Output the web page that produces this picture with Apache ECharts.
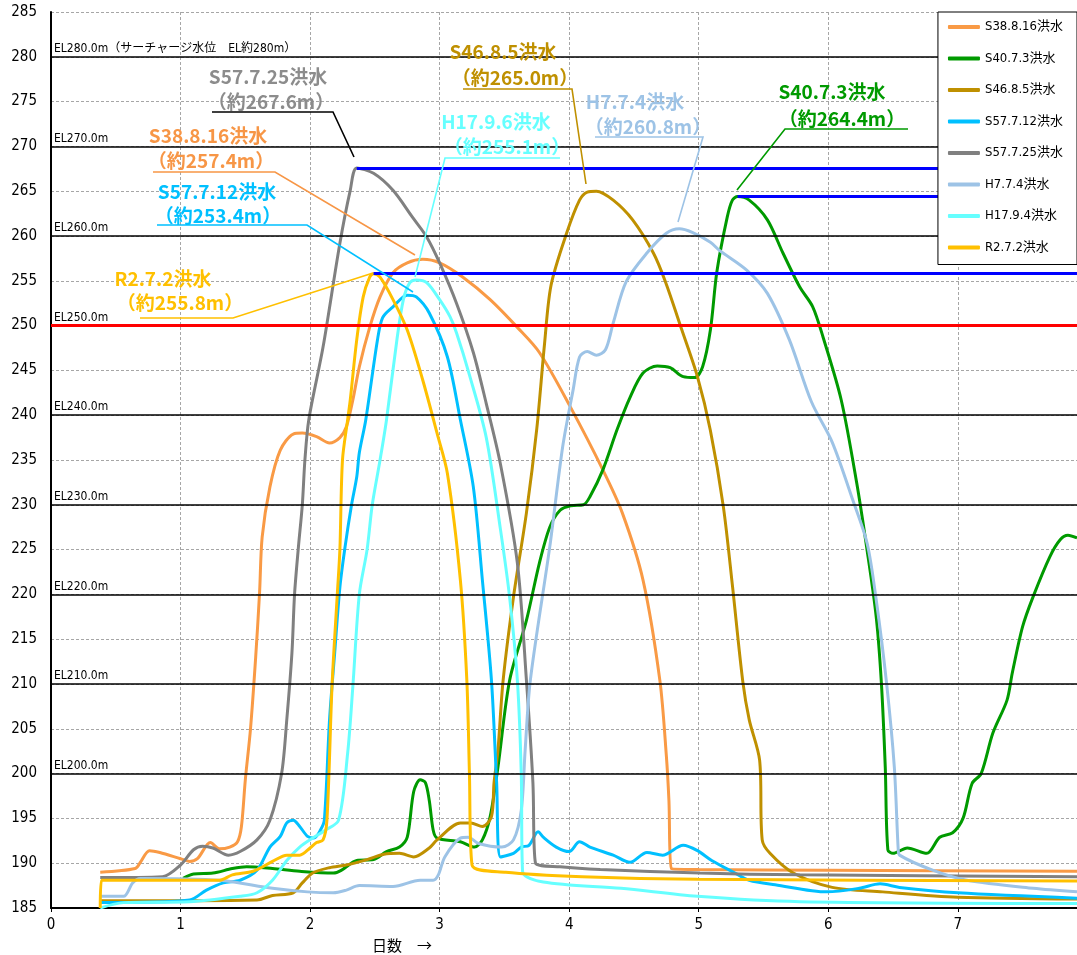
<!DOCTYPE html>
<html>
<head>
<meta charset="utf-8">
<script src="https://cdn.jsdelivr.net/npm/echarts@6/dist/echarts.min.js"></script>
<style>
  html, body { margin: 0; padding: 0; background: #fff; }
  #chart { width: 1077px; height: 955px; }
</style>
</head>
<body>
<div id="chart"></div>
<script>
// 貯水位の推移 (日数, EL m)
const s38_8_16 = [[0.38,189.0],[0.65,189.4],[0.69,190.1],[0.76,191.4],[0.84,191.2],[1.00,190.5],[1.07,190.2],[1.13,190.5],[1.23,192.3],[1.30,191.6],[1.38,191.8],[1.44,192.4],[1.47,194.1],[1.50,199.3],[1.54,205.0],[1.58,213.0],[1.61,220.2],[1.63,226.4],[1.69,232.0],[1.77,236.1],[1.87,237.9],[1.94,238.0],[2.05,237.6],[2.15,236.9],[2.23,237.5],[2.28,238.7],[2.33,241.7],[2.38,245.4],[2.46,249.8],[2.54,253.2],[2.64,255.9],[2.75,257.0],[2.87,257.4],[3.00,257.0],[3.18,255.4],[3.39,252.9],[3.60,249.8],[3.77,247.0],[4.01,240.9],[4.26,233.9],[4.41,229.1],[4.57,221.6],[4.70,210.4],[4.75,202.0],[4.77,197.0],[4.79,189.4],[5.00,189.3],[6.00,189.2],[7.92,189.1]];
const s40_7_3 = [[1.02,188.3],[1.10,188.8],[1.25,188.9],[1.40,189.4],[1.51,189.6],[1.71,189.4],[1.92,189.1],[2.18,188.9],[2.24,189.2],[2.36,190.3],[2.49,190.4],[2.59,191.3],[2.69,191.8],[2.75,192.9],[2.80,198.0],[2.85,199.3],[2.89,199.0],[2.92,197.0],[2.95,193.7],[2.98,192.8],[3.16,192.4],[3.27,191.8],[3.33,192.6],[3.39,195.2],[3.45,200.7],[3.54,210.4],[3.67,217.1],[3.77,223.5],[3.85,227.5],[3.93,229.4],[4.01,229.9],[4.11,230.0],[4.16,230.9],[4.26,233.9],[4.37,238.4],[4.47,242.0],[4.57,244.7],[4.68,245.5],[4.78,245.3],[4.88,244.3],[4.97,244.2],[5.03,245.4],[5.09,249.5],[5.14,256.0],[5.22,262.1],[5.26,264.0],[5.30,264.4],[5.39,264.0],[5.53,261.8],[5.65,258.1],[5.78,254.3],[5.88,252.1],[5.96,248.7],[6.10,241.7],[6.22,232.4],[6.30,224.9],[6.37,217.5],[6.41,210.1],[6.44,200.7],[6.46,191.5],[6.50,191.1],[6.61,191.7],[6.76,191.1],[6.86,192.9],[6.96,193.4],[7.04,195.0],[7.11,198.9],[7.18,200.0],[7.27,204.5],[7.38,208.2],[7.42,211.2],[7.50,216.4],[7.58,219.7],[7.71,224.2],[7.79,226.1],[7.85,226.6],[7.92,226.3]];
const s46_8_5 = [[0.38,185.8],[1.59,185.9],[1.71,186.4],[1.87,186.7],[1.94,187.8],[2.02,188.9],[2.15,189.5],[2.28,189.8],[2.44,190.4],[2.57,191.0],[2.69,191.1],[2.80,190.7],[2.92,191.7],[2.98,192.6],[3.16,194.5],[3.24,194.5],[3.33,194.1],[3.40,195.2],[3.42,199.0],[3.45,202.6],[3.49,210.4],[3.57,219.7],[3.67,229.1],[3.75,238.5],[3.81,248.0],[3.86,254.5],[3.98,260.3],[4.08,264.0],[4.14,264.9],[4.21,265.0],[4.34,264.0],[4.49,261.8],[4.65,258.1],[4.74,255.0],[4.87,249.5],[4.99,244.3],[5.09,238.3],[5.19,229.8],[5.26,221.0],[5.34,210.3],[5.39,206.0],[5.47,201.5],[5.49,192.6],[5.55,191.1],[5.73,188.9],[6.03,187.3],[6.42,186.8],[7.00,186.2],[7.92,186.0]];
const s57_7_12 = [[0.38,185.6],[1.07,185.9],[1.20,187.0],[1.33,187.8],[1.46,188.1],[1.59,189.2],[1.69,191.8],[1.77,193.0],[1.82,194.5],[1.87,194.8],[1.92,194.1],[1.98,193.0],[2.03,192.8],[2.08,193.7],[2.11,194.8],[2.15,206.0],[2.19,213.5],[2.23,220.8],[2.27,225.3],[2.32,230.0],[2.36,233.1],[2.38,235.8],[2.43,239.5],[2.52,248.4],[2.56,250.9],[2.64,252.1],[2.75,253.4],[2.82,253.2],[2.92,251.4],[3.06,246.5],[3.16,239.5],[3.26,232.0],[3.33,221.6],[3.40,210.4],[3.44,199.0],[3.47,190.7],[3.57,191.1],[3.63,191.8],[3.69,192.0],[3.76,193.5],[3.80,192.9],[3.90,191.8],[4.00,191.3],[4.08,192.4],[4.16,191.8],[4.34,190.9],[4.47,190.1],[4.60,191.2],[4.72,190.9],[4.88,192.0],[4.99,191.4],[5.10,190.3],[5.28,188.9],[5.39,188.1],[5.59,187.6],[5.99,186.8],[6.24,187.2],[6.40,187.7],[6.55,187.3],[7.00,186.7],[7.92,186.1]];
const s57_7_25 = [[0.38,188.4],[0.86,188.5],[1.00,189.8],[1.10,191.5],[1.17,191.9],[1.25,191.7],[1.37,190.9],[1.46,191.3],[1.59,192.6],[1.69,194.8],[1.78,200.0],[1.82,206.0],[1.86,213.5],[1.88,220.0],[1.91,225.3],[1.94,230.0],[1.96,235.0],[1.99,239.5],[2.10,247.6],[2.23,259.2],[2.31,265.1],[2.36,267.6],[2.49,267.0],[2.64,265.1],[2.79,262.1],[2.90,259.9],[3.00,257.0],[3.13,252.5],[3.26,247.0],[3.36,241.3],[3.47,234.5],[3.60,223.5],[3.67,210.4],[3.72,199.0],[3.74,190.0],[3.93,189.6],[4.24,189.3],[5.01,188.9],[5.78,188.7],[7.92,188.5]];
const h7_7_4 = [[0.38,186.3],[0.56,186.3],[0.63,187.8],[0.69,188.3],[1.30,188.1],[1.71,187.2],[1.98,186.8],[2.18,186.7],[2.28,187.0],[2.38,187.5],[2.64,187.4],[2.85,188.1],[2.95,188.1],[2.99,188.7],[3.04,190.7],[3.16,192.8],[3.22,192.9],[3.30,192.2],[3.48,191.8],[3.57,192.6],[3.63,195.9],[3.66,202.6],[3.70,210.4],[3.85,225.3],[3.95,236.5],[4.03,242.8],[4.08,246.5],[4.14,247.1],[4.21,246.7],[4.28,247.3],[4.34,250.3],[4.44,254.9],[4.60,258.1],[4.75,260.3],[4.85,260.8],[4.95,260.4],[5.09,259.3],[5.16,258.4],[5.37,256.2],[5.53,253.6],[5.70,248.4],[5.87,241.5],[6.03,237.0],[6.19,230.5],[6.30,225.7],[6.37,219.4],[6.45,210.1],[6.51,200.7],[6.54,191.5],[6.55,190.9],[6.81,189.2],[7.07,188.1],[7.58,187.2],[7.92,186.8]];
const h17_9_4 = [[0.38,185.0],[0.56,185.6],[1.07,185.7],[1.46,186.3],[1.59,186.7],[1.71,188.1],[1.82,190.3],[1.92,191.8],[2.02,192.8],[2.12,193.7],[2.22,194.8],[2.29,202.3],[2.33,209.7],[2.38,220.0],[2.44,225.0],[2.48,230.0],[2.54,235.0],[2.59,239.5],[2.67,248.4],[2.72,252.9],[2.77,254.8],[2.82,255.1],[2.90,254.8],[3.00,252.9],[3.08,251.0],[3.13,249.2],[3.23,244.5],[3.36,237.5],[3.47,227.2],[3.54,219.7],[3.60,210.4],[3.63,200.0],[3.64,189.1],[3.80,187.9],[4.40,187.2],[4.99,186.3],[5.78,185.7],[7.92,185.5]];
const r2_7_2 = [[0.38,185.0],[0.39,188.1],[1.30,188.1],[1.40,188.7],[1.56,189.1],[1.71,190.2],[1.82,190.9],[1.92,190.9],[2.00,191.7],[2.05,192.3],[2.10,192.6],[2.13,194.8],[2.17,210.0],[2.21,220.0],[2.23,225.0],[2.25,235.0],[2.29,239.5],[2.31,241.7],[2.36,248.4],[2.41,253.2],[2.46,255.4],[2.49,255.8],[2.54,255.4],[2.64,252.9],[2.75,249.5],[2.87,243.9],[2.98,238.0],[3.06,233.5],[3.16,221.6],[3.21,210.4],[3.23,200.0],[3.25,189.8],[3.51,189.0],[4.10,188.5],[4.99,188.2],[7.92,188.0]];

const seriesNames = ['S38.8.16洪水', 'S40.7.3洪水', 'S46.8.5洪水', 'S57.7.12洪水', 'S57.7.25洪水', 'H7.7.4洪水', 'H17.9.4洪水', 'R2.7.2洪水'];
const seriesData = [s38_8_16, s40_7_3, s46_8_5, s57_7_12, s57_7_25, h7_7_4, h17_9_4, r2_7_2];
const seriesColors = ['#f99a45', '#009a00', '#bf9000', '#00c0ff', '#808080', '#9dc3e6', '#66ffff', '#ffc000'];

// EL 基準線
const elLevels = [200, 210, 220, 230, 240, 260, 270, 280];
const floodLevel = 250;
const surchargeNote = '（サーチャージ水位　EL約280m）';
// 青線を引く洪水 (S57.7.25, S40.7.3, R2.7.2)
const blueLineSeries = [4, 1, 7];

const xMax = 7.92;
const fontNarrow = "'DejaVu Sans Condensed', 'Liberation Sans Narrow', 'Noto Sans CJK JP', sans-serif";
const fontCallout = "'Noto Sans CJK JP', sans-serif";

function peakOf(data) {
    let p = data[0];
    data.forEach(function (d) { if (d[1] > p[1]) p = d; });
    return p;
}

// 吹き出し (pixel layout)
const callouts = [
    { idx: 4, name: 'S57.7.25洪水', text: '#8c8c8c', line: '#000000', t1: [268, 77], t2: [271, 102], path: [[212, 112], [333, 112], [354, 157]] },
    { idx: 0, name: 'S38.8.16洪水', text: '#f79646', line: '#f79646', t1: [208, 136], t2: [211, 161], path: [[153, 172], [275, 172], [415, 255]] },
    { idx: 3, name: 'S57.7.12洪水', text: '#00c0ff', line: '#00c0ff', t1: [217, 192], t2: [218, 216], path: [[157, 225], [307, 225], [413, 292]] },
    { idx: 7, name: 'R2.7.2洪水', text: '#ffc000', line: '#ffc000', t1: [163, 279], t2: [180, 303], path: [[140, 318], [233, 318], [373, 273]] },
    { idx: 2, name: 'S46.8.5洪水', text: '#bf9000', line: '#bf9000', t1: [503, 52], t2: [515, 78], path: [[463, 89], [572, 89], [586, 184]] },
    { idx: 6, name: 'H17.9.6洪水', text: '#66ffff', line: '#66ffff', t1: [496, 122], t2: [507, 147], path: [[560, 158], [445, 158], [415, 277]] },
    { idx: 5, name: 'H7.7.4洪水', text: '#9dc3e6', line: '#9dc3e6', t1: [635, 102], t2: [648, 127], path: [[595, 137], [703, 137], [678, 222]] },
    { idx: 1, name: 'S40.7.3洪水', text: '#009a00', line: '#009a00', t1: [832, 92], t2: [842, 119], path: [[908, 129], [785, 129], [737, 190]] }
];

let chart = echarts.init(document.getElementById('chart'));

let series = seriesNames.map(function (name, i) {
    return {
        name: name,
        type: 'line',
        data: seriesData[i],
        symbol: 'none',
        smooth: 0.3,
        color: seriesColors[i],
        lineStyle: { width: 3, color: seriesColors[i] },
        z: 3
    };
});

let elLines = elLevels.map(function (v) {
    return {
        yAxis: v,
        lineStyle: { color: '#000', width: 1.5, type: 'solid' },
        label: { formatter: 'EL' + v.toFixed(1) + 'm' + (v === 280 ? surchargeNote : '') }
    };
});
elLines.push({
    yAxis: floodLevel,
    lineStyle: { color: '#ff0000', width: 3, type: 'solid' },
    label: { formatter: 'EL' + floodLevel.toFixed(1) + 'm' }
});

series.push({
    type: 'line',
    data: [],
    z: 1,
    silent: true,
    markLine: {
        symbol: ['none', 'none'],
        silent: true,
        animation: false,
        label: { position: 'insideStartTop', color: '#000', fontSize: 12, fontFamily: fontNarrow, distance: [3, 2] },
        data: elLines
    }
});

series.push({
    type: 'line',
    data: [],
    z: 8,
    silent: true,
    markLine: {
        symbol: ['none', 'none'],
        silent: true,
        animation: false,
        label: { show: false },
        lineStyle: { color: '#0000ff', width: 3, type: 'solid' },
        data: blueLineSeries.map(function (i) {
            let p = peakOf(seriesData[i]);
            return [{ coord: [p[0], p[1]] }, { coord: [xMax, p[1]] }];
        })
    }
});

let graphic = [];
callouts.forEach(function (c) {
    let p = peakOf(seriesData[c.idx]);
    graphic.push({
        type: 'polyline', silent: true, z: 20,
        shape: { points: c.path },
        style: { stroke: c.line, lineWidth: 1.6, fill: null }
    });
    graphic.push({
        type: 'text', silent: true, z: 20, x: c.t1[0], y: c.t1[1],
        style: { text: c.name, fill: c.text, font: 'bold 19px ' + fontCallout, textAlign: 'center', textVerticalAlign: 'middle' }
    });
    graphic.push({
        type: 'text', silent: true, z: 20, x: c.t2[0], y: c.t2[1],
        style: { text: '（約' + p[1].toFixed(1) + 'm）', fill: c.text, font: 'bold 19px ' + fontCallout, textAlign: 'center', textVerticalAlign: 'middle' }
    });
});
graphic.push({
    type: 'text', silent: true, x: 402, y: 945,
    style: { text: '日数　→', fill: '#000', font: '15px ' + fontCallout, textAlign: 'center', textVerticalAlign: 'middle' }
});

let option = {
    animation: false,
    backgroundColor: '#fff',
    grid: { left: 51, right: 0, top: 12, bottom: 47, containLabel: false },
    legend: {
        orient: 'vertical',
        right: 0,
        top: 12,
        z: 6,
        data: seriesNames,
        icon: 'roundRect',
        itemWidth: 32,
        itemHeight: 4,
        itemGap: 17.5,
        padding: [8, 14, 10, 10],
        backgroundColor: '#fff',
        borderColor: '#000',
        borderWidth: 1,
        borderRadius: 0,
        textStyle: { fontSize: 13, lineHeight: 14, color: '#000', fontFamily: fontNarrow }
    },
    xAxis: {
        type: 'value',
        min: 0,
        max: xMax,
        interval: 1,
        axisLine: { lineStyle: { color: '#000', width: 2 } },
        axisTick: { show: true, length: 4, lineStyle: { color: '#000' } },
        axisLabel: {
            color: '#000', fontSize: 15, margin: 10, fontFamily: fontNarrow, showMaxLabel: false,
            formatter: function (v) { return Math.abs(v - Math.round(v)) < 1e-6 ? String(Math.round(v)) : ''; }
        },
        splitLine: { show: true, lineStyle: { color: '#a6a6a6', type: [3, 2], width: 1 } }
    },
    yAxis: {
        type: 'value',
        min: 185,
        max: 285,
        interval: 5,
        axisLine: { show: true, lineStyle: { color: '#000', width: 2 } },
        axisTick: { show: false },
        axisLabel: { color: '#000', fontSize: 15, margin: 14, fontFamily: fontNarrow },
        splitLine: { show: true, lineStyle: { color: '#a6a6a6', type: [3, 2], width: 1 } }
    },
    series: series,
    graphic: graphic
};

chart.setOption(option);
</script>
</body>
</html>
